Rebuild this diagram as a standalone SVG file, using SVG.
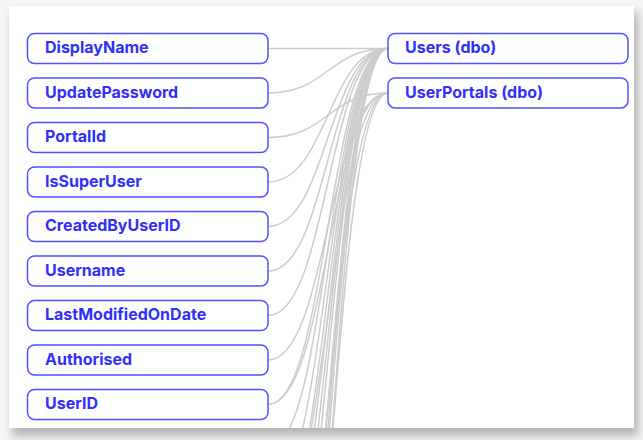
<svg xmlns="http://www.w3.org/2000/svg" width="643" height="440" viewBox="0 0 643 440">
<defs>
<style>
.node rect{fill:#fff;stroke:#5252ff;stroke-width:1.5}
.node text{font-family:Inter,"Open Sans","DejaVu Sans",sans-serif;font-weight:700;font-size:16px;fill:#3030fa}
.link{fill:none;stroke:#cccccc;stroke-width:1.5}
</style>
<filter id="shadow" x="-10%" y="-10%" width="120%" height="125%">
<feGaussianBlur stdDeviation="5"/>
</filter>
<clipPath id="card"><rect x="9" y="6" width="625" height="422"/></clipPath>
</defs>
<rect x="0" y="0" width="643" height="440" fill="#f5f5f5"/>
<rect x="12" y="12" width="626" height="424" fill="#b4b4b4" filter="url(#shadow)"/>
<rect x="9" y="6" width="625" height="422" fill="#fff"/>
<g id="connectors" clip-path="url(#card)">
<path class="link" d="M268,48.5 C328,48.5 328,48.5 388,48.5"/>
<path class="link" d="M268,93 C328,93 328,48.5 388,48.5"/>
<path class="link" d="M268,137.5 C328,137.5 328,93 388,93"/>
<path class="link" d="M268,182 C328,182 328,48.5 388,48.5"/>
<path class="link" d="M268,226.5 C328,226.5 328,48.5 388,48.5"/>
<path class="link" d="M268,271 C328,271 328,48.5 388,48.5"/>
<path class="link" d="M268,315.5 C328,315.5 328,48.5 388,48.5"/>
<path class="link" d="M268,360 C328,360 328,93 388,93"/>
<path class="link" d="M268,404.5 C328,404.5 328,48.5 388,48.5"/>
<path class="link" d="M268,404.5 C328,404.5 328,93 388,93"/>
<path class="link" d="M268,449 C328,449 328,48.5 388,48.5"/>
<path class="link" d="M268,493.5 C328,493.5 328,48.5 388,48.5"/>
<path class="link" d="M268,538 C328,538 328,48.5 388,48.5"/>
<path class="link" d="M268,538 C328,538 328,93 388,93"/>
<path class="link" d="M268,582.5 C328,582.5 328,48.5 388,48.5"/>
<path class="link" d="M268,627 C328,627 328,48.5 388,48.5"/>
<path class="link" d="M268,671.5 C328,671.5 328,48.5 388,48.5"/>
<path class="link" d="M268,716 C328,716 328,93 388,93"/>
<path class="link" d="M268,760.5 C328,760.5 328,48.5 388,48.5"/>
<path class="link" d="M268,805 C328,805 328,48.5 388,48.5"/>
<path class="link" d="M268,849.5 C328,849.5 328,48.5 388,48.5"/>
<path class="link" d="M268,894 C328,894 328,93 388,93"/>
<path class="link" d="M268,938.5 C328,938.5 328,48.5 388,48.5"/>
</g>
<g id="node-DisplayName" class="node"><rect x="27.5" y="33.5" width="240.5" height="30" rx="7"/><text x="45" y="53">DisplayName</text></g>
<g id="node-UpdatePassword" class="node"><rect x="27.5" y="78" width="240.5" height="30" rx="7"/><text x="45" y="97.5">UpdatePassword</text></g>
<g id="node-PortalId" class="node"><rect x="27.5" y="122.5" width="240.5" height="30" rx="7"/><text x="45" y="142">PortalId</text></g>
<g id="node-IsSuperUser" class="node"><rect x="27.5" y="167" width="240.5" height="30" rx="7"/><text x="45" y="186.5">IsSuperUser</text></g>
<g id="node-CreatedByUserID" class="node"><rect x="27.5" y="211.5" width="240.5" height="30" rx="7"/><text x="45" y="231">CreatedByUserID</text></g>
<g id="node-Username" class="node"><rect x="27.5" y="256" width="240.5" height="30" rx="7"/><text x="45" y="275.5">Username</text></g>
<g id="node-LastModifiedOnDate" class="node"><rect x="27.5" y="300.5" width="240.5" height="30" rx="7"/><text x="45" y="320">LastModifiedOnDate</text></g>
<g id="node-Authorised" class="node"><rect x="27.5" y="345" width="240.5" height="30" rx="7"/><text x="45" y="364.5">Authorised</text></g>
<g id="node-UserID" class="node"><rect x="27.5" y="389.5" width="240.5" height="30" rx="7"/><text x="45" y="409">UserID</text></g>
<g id="node-Users" class="node"><rect x="388" y="33.5" width="240" height="30" rx="7"/><text x="405" y="53">Users (dbo)</text></g>
<g id="node-UserPortals" class="node"><rect x="388" y="78" width="240" height="30" rx="7"/><text x="405" y="97.5">UserPortals (dbo)</text></g>
</svg>
